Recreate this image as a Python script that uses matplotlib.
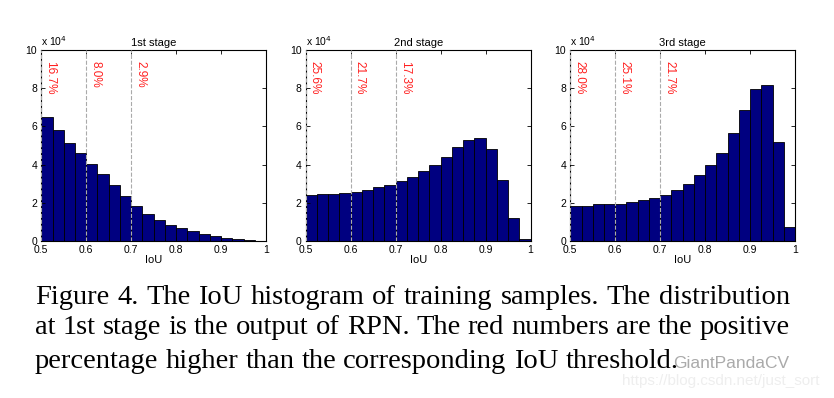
import matplotlib
matplotlib.use("Agg")
import matplotlib.pyplot as plt
import numpy as np

# histogram bins: IoU 0.5 .. 1.0, 20 bins
bin_edges = np.linspace(0.5, 1.0, 21)

# counts in units of 1e4
stage1 = [6.47, 5.80, 5.14, 4.62, 4.04, 3.48, 2.92, 2.34, 1.85, 1.43,
          1.08, 0.82, 0.65, 0.49, 0.38, 0.24, 0.16, 0.07, 0.02, 0.01]
stage2 = [2.41, 2.45, 2.48, 2.52, 2.57, 2.67, 2.80, 2.95, 3.13, 3.37,
          3.64, 4.00, 4.42, 4.91, 5.28, 5.37, 4.81, 3.18, 1.17, 0.09]
stage3 = [1.82, 1.85, 1.91, 1.91, 1.94, 2.01, 2.15, 2.26, 2.40, 2.64,
          2.97, 3.43, 3.99, 4.63, 5.63, 6.85, 7.97, 8.18, 5.17, 0.72]

titles = ["1st stage", "2nd stage", "3rd stage"]
thresholds = [0.5, 0.6, 0.7]
percents = [["16.7%", "8.0%", "2.9%"],
            ["25.6%", "21.7%", "17.3%"],
            ["28.0%", "25.1%", "21.7%"]]

caption = ["Figure 4. The IoU histogram of training samples. The distribution",
           "at 1st stage is the output of RPN. The red numbers are the positive",
           "percentage higher than the corresponding IoU threshold."]

fig = plt.figure(figsize=(8.34, 3.98), dpi=100)
plt.rcParams['font.family'] = ['Liberation Sans', 'DejaVu Sans']

lefts = [0.0495, 0.3666, 0.6838]
for k, counts in enumerate([stage1, stage2, stage3]):
    ax = fig.add_axes([lefts[k], 0.395, 0.2695, 0.479])
    ax.bar(bin_edges[:-1], counts, width=np.diff(bin_edges), align='edge',
           color='#000080', edgecolor='black', linewidth=0.6)
    for t in thresholds:
        ax.axvline(t, color='#aaaaaa', linestyle='--', linewidth=0.8, zorder=3)
    for t, p in zip(thresholds, percents[k]):
        ax.text(t + 0.007, 9.45, p, rotation=270, color='#ff2020',
                fontsize=8.5, ha='left', va='top')
    ax.set_xlim(0.5, 1.0)
    ax.set_ylim(0, 10)
    ax.set_xticks([0.5, 0.6, 0.7, 0.8, 0.9, 1.0])
    ax.set_xticklabels(["0.5", "0.6", "0.7", "0.8", "0.9", "1"])
    ax.set_yticks([0, 2, 4, 6, 8, 10])
    ax.tick_params(direction='in', length=3, width=0.6, labelsize=7.5,
                   top=True, right=True)
    ax.tick_params(axis='x', pad=3)
    ax.tick_params(axis='y', pad=3)
    for s in ax.spines.values():
        s.set_linewidth(0.8)
    ax.set_title(titles[k], fontsize=8, pad=3)
    ax.set_xlabel("IoU", fontsize=8, labelpad=0)
    ax.text(0.0, 1.01, r"x 10$^4$", transform=ax.transAxes, fontsize=7.5,
            ha='left', va='bottom')

# caption, justified like the paper (last line left aligned)
x0, x1 = 35, 790
ys = [297, 328, 361]
renderer = fig.canvas.get_renderer()
for i, (line, y) in enumerate(zip(caption, ys)):
    words = line.split(" ")
    texts = [fig.text(0, 1 - y / 398, w, fontsize=20.5,
                      family=['Liberation Serif'], ha='left', va='center')
             for w in words]
    widths = [t.get_window_extent(renderer).width for t in texts]
    space = fig.text(0, 0, "a b", fontsize=20.5, family=['Liberation Serif'])
    sw = space.get_window_extent(renderer).width
    ab = fig.text(0, 0, "ab", fontsize=20.5, family=['Liberation Serif'])
    sw -= ab.get_window_extent(renderer).width
    space.remove()
    ab.remove()
    if i < len(caption) - 1:
        gap = (x1 - x0 - sum(widths)) / (len(words) - 1)
    else:
        gap = sw
    x = x0
    for t, w in zip(texts, widths):
        t.set_x(x / 834)
        x += w + gap

fig.text(673 / 834, 1 - 363 / 398, "GiantPandaCV", fontsize=12.5,
         color='#aaaaaa', ha='left', va='center')
fig.text(622 / 834, 1 - 381 / 398, "https://blog.csdn.net/just_sort",
         fontsize=11, color='#eeeeee', ha='left', va='center')

fig.savefig("out.png", dpi=100)
